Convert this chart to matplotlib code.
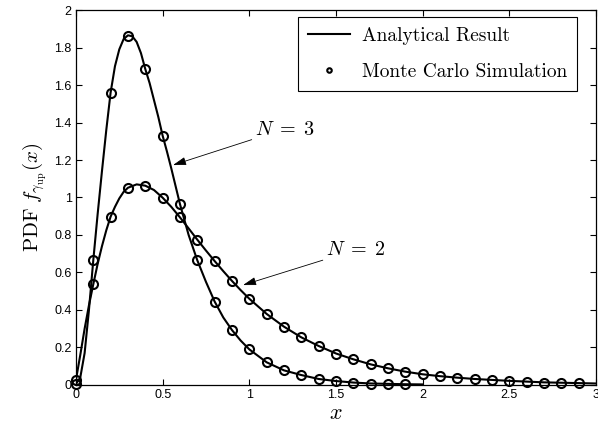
import matplotlib
matplotlib.use("Agg")
import matplotlib.pyplot as plt
import matplotlib.ticker as mticker

# Analytical curves (denser around the peaks)
x_ana_n3 = [0.0, 0.025, 0.05, 0.075, 0.1, 0.125, 0.15, 0.175, 0.2, 0.225, 0.25, 0.275,
            0.3, 0.325, 0.35, 0.375, 0.4, 0.425, 0.45, 0.475, 0.5, 0.525, 0.55, 0.575,
            0.6, 0.65, 0.7, 0.75, 0.8, 0.85, 0.9, 0.95, 1.0, 1.1, 1.2, 1.3, 1.4, 1.5,
            1.6, 1.7, 1.8, 1.9, 2.0]
y_ana_n3 = [0.005, 0.04, 0.17, 0.40, 0.665, 0.91, 1.14, 1.36, 1.56, 1.70, 1.79, 1.845,
            1.865, 1.86, 1.83, 1.77, 1.685, 1.61, 1.52, 1.43, 1.33, 1.245, 1.155, 1.06,
            0.965, 0.80, 0.665, 0.55, 0.445, 0.36, 0.293, 0.237, 0.19, 0.121, 0.078,
            0.053, 0.032, 0.021, 0.013, 0.008, 0.006, 0.004, 0.003]

x_ana_n2 = [0.0, 0.025, 0.05, 0.075, 0.1, 0.125, 0.15, 0.175, 0.2, 0.225, 0.25, 0.275,
            0.3, 0.35, 0.4, 0.45, 0.5, 0.55, 0.6, 0.65, 0.7, 0.75, 0.8, 0.85, 0.9, 0.95,
            1.0, 1.1, 1.2, 1.3, 1.4, 1.5, 1.6, 1.7, 1.8, 1.9, 2.0, 2.1, 2.2, 2.3, 2.4,
            2.5, 2.6, 2.7, 2.8, 2.9, 3.0]
y_ana_n2 = [0.027, 0.16, 0.30, 0.425, 0.537, 0.645, 0.74, 0.825, 0.898, 0.95, 0.995,
            1.03, 1.052, 1.07, 1.063, 1.04, 0.999, 0.95, 0.894, 0.835, 0.775, 0.717,
            0.661, 0.607, 0.555, 0.506, 0.46, 0.379, 0.311, 0.254, 0.208, 0.168, 0.137,
            0.110, 0.089, 0.071, 0.057, 0.047, 0.039, 0.032, 0.027, 0.022, 0.018, 0.014,
            0.012, 0.010, 0.008]

# Monte Carlo points
x_mc_n3 = [0.0, 0.1, 0.2, 0.3, 0.4, 0.5, 0.6, 0.7, 0.8, 0.9, 1.0, 1.1, 1.2, 1.3, 1.4,
           1.5, 1.6, 1.7, 1.8, 1.9]
y_mc_n3 = [0.005, 0.665, 1.56, 1.863, 1.685, 1.33, 0.963, 0.667, 0.444, 0.293, 0.19,
           0.121, 0.078, 0.053, 0.030, 0.021, 0.012, 0.007, 0.005, 0.004]

x_mc_n2 = [0.0, 0.1, 0.2, 0.3, 0.4, 0.5, 0.6, 0.7, 0.8, 0.9, 1.0, 1.1, 1.2, 1.3, 1.4,
           1.5, 1.6, 1.7, 1.8, 1.9, 2.0, 2.1, 2.2, 2.3, 2.4, 2.5, 2.6, 2.7, 2.8, 2.9]
y_mc_n2 = [0.027, 0.537, 0.898, 1.052, 1.063, 0.999, 0.894, 0.775, 0.661, 0.555, 0.46,
           0.379, 0.311, 0.254, 0.208, 0.165, 0.137, 0.110, 0.089, 0.071, 0.057, 0.048,
           0.039, 0.032, 0.027, 0.021, 0.016, 0.013, 0.011, 0.009]

x_ticks = [0, 0.5, 1, 1.5, 2, 2.5, 3]
y_ticks = [0, 0.2, 0.4, 0.6, 0.8, 1, 1.2, 1.4, 1.6, 1.8, 2]

plt.rcParams["mathtext.fontset"] = "cm"
plt.rcParams["font.family"] = ["Liberation Sans", "DejaVu Sans"]

fig = plt.figure(figsize=(5.98, 4.30), dpi=100)
ax = fig.add_axes([0.127, 0.1047, 0.8697, 0.872])

ax.plot(x_ana_n3, y_ana_n3, color="k", lw=1.5, label="Analytical Result")
ax.plot(x_ana_n2, y_ana_n2, color="k", lw=1.5)
ax.plot(x_mc_n3, y_mc_n3, "o", ms=6.5, mfc="none", mec="k", mew=1.5,
        clip_on=False, label="Monte Carlo Simulation")
ax.plot(x_mc_n2, y_mc_n2, "o", ms=6.5, mfc="none", mec="k", mew=1.5, clip_on=False)

ax.set_xlim(0, 3)
ax.set_ylim(0, 2)
ax.set_xticks(x_ticks)
ax.set_yticks(y_ticks)
fmt = mticker.FuncFormatter(lambda v, _: f"{v:g}")
ax.xaxis.set_major_formatter(fmt)
ax.yaxis.set_major_formatter(fmt)
ax.tick_params(direction="in", length=4, width=0.8, top=True, right=True,
               labelsize=9, pad=3)
for s in ax.spines.values():
    s.set_linewidth(0.9)

ax.set_xlabel(r"$x$", fontsize=16, labelpad=1)
ax.set_ylabel(r"$\mathrm{PDF}\ f_{\gamma_{\mathrm{up}}}(x)$", fontsize=15, labelpad=4)

arrow = dict(arrowstyle="-|>,head_length=0.55,head_width=0.17", lw=0.6, color="k",
             shrinkA=0, shrinkB=0)
ax.annotate(r"$N\;=\;3$", xy=(0.56, 1.173), xytext=(1.03, 1.365), fontsize=14.5,
            va="center", ha="left", arrowprops=arrow)
ax.annotate(r"$N\;=\;2$", xy=(0.964, 0.533), xytext=(1.44, 0.72), fontsize=14.5,
            va="center", ha="left", arrowprops=arrow)

leg = ax.legend(loc="upper right", bbox_to_anchor=(0.9635, 0.981), borderaxespad=0,
                prop={"family": "cmr10", "size": 14}, fancybox=False,
                edgecolor="k", framealpha=1, handlelength=2.2, handletextpad=0.6,
                labelspacing=0.95, borderpad=0.5, markerscale=0.5)
leg.get_frame().set_linewidth(0.8)

fig.savefig("out.png", dpi=100)
